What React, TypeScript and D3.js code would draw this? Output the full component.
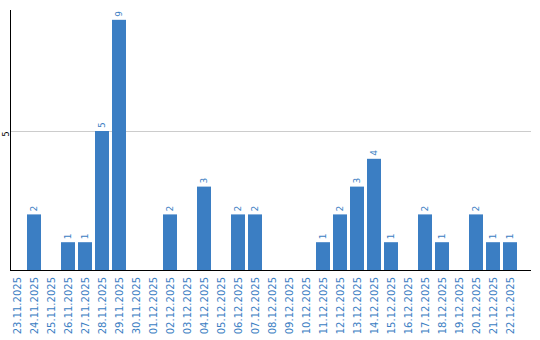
import React from "react";
import * as d3 from "d3";

const dates = [
  "23.11.2025", "24.11.2025", "25.11.2025", "26.11.2025", "27.11.2025", "28.11.2025",
  "29.11.2025", "30.11.2025", "01.12.2025", "02.12.2025", "03.12.2025", "04.12.2025",
  "05.12.2025", "06.12.2025", "07.12.2025", "08.12.2025", "09.12.2025", "10.12.2025",
  "11.12.2025", "12.12.2025", "13.12.2025", "14.12.2025", "15.12.2025", "16.12.2025",
  "17.12.2025", "18.12.2025", "19.12.2025", "20.12.2025", "21.12.2025", "22.12.2025",
];
const counts = [0, 2, 0, 1, 1, 5, 9, 0, 0, 2, 0, 3, 0, 2, 2, 0, 0, 0, 1, 2, 3, 4, 1, 0, 2, 1, 0, 2, 1, 1];
const yTicks = [5];

const W = 540;
const H = 340;
const left = 10;
const right = 531;
const top = 10;
const bottom = 270;
const BLUE = "#3b7ec3";
const FONT = "DejaVu Sans, Verdana, sans-serif";

export default function App() {
  const x = d3.scaleBand<string>().domain(dates).range([left, left + 507]).paddingInner(3 / 17).paddingOuter(0);
  const y = d3.scaleLinear().domain([0, 9.353]).range([bottom, top]);

  return (
    <svg width={W} height={H} style={{ position: "fixed", left: 0, top: 0, background: "#fff" }}>
      {yTicks.map((t) => (
        <g key={t}>
          <line x1={left} x2={right} y1={Math.round(y(t)) + 0.5} y2={Math.round(y(t)) + 0.5} stroke="#cccccc" strokeWidth={1} />
          <text
            transform={`translate(${left - 1},${y(t) + 0.5}) rotate(-90)`}
            textAnchor="end"
            fontSize={8}
            fontFamily={FONT}
            fill="#000"
          >
            {t}
          </text>
        </g>
      ))}
      {dates.map((d, i) => {
        const v = counts[i];
        if (!v) return null;
        const bx = x(d)!;
        return (
          <rect key={d} x={bx} y={y(v)} width={x.bandwidth()} height={y(0) - y(v)} fill={BLUE} />
        );
      })}
      {dates.map((d, i) => {
        const v = counts[i];
        if (!v) return null;
        const cx = x(d)! + x.bandwidth() / 2;
        return (
          <text
            key={"v" + d}
            transform={`translate(${cx + 3},${y(v) - 3}) rotate(-90)`}
            textAnchor="start"
            fontSize={9}
            fontFamily={FONT}
            fill={BLUE}
          >
            {v}
          </text>
        );
      })}
      <line x1={left + 0.5} x2={left + 0.5} y1={top} y2={bottom + 1} stroke="#000" strokeWidth={1} />
      <line x1={left} x2={right} y1={bottom + 0.5} y2={bottom + 0.5} stroke="#000" strokeWidth={1} />
      {dates.map((d) => {
        const cx = x(d)! + x.bandwidth() / 2;
        return (
          <text
            key={"t" + d}
            transform={`translate(${cx + 3.5},${bottom + 7}) rotate(-90)`}
            textAnchor="end"
            fontSize={10}
            fontFamily={FONT}
            fill={BLUE}
          >
            {d}
          </text>
        );
      })}
    </svg>
  );
}
